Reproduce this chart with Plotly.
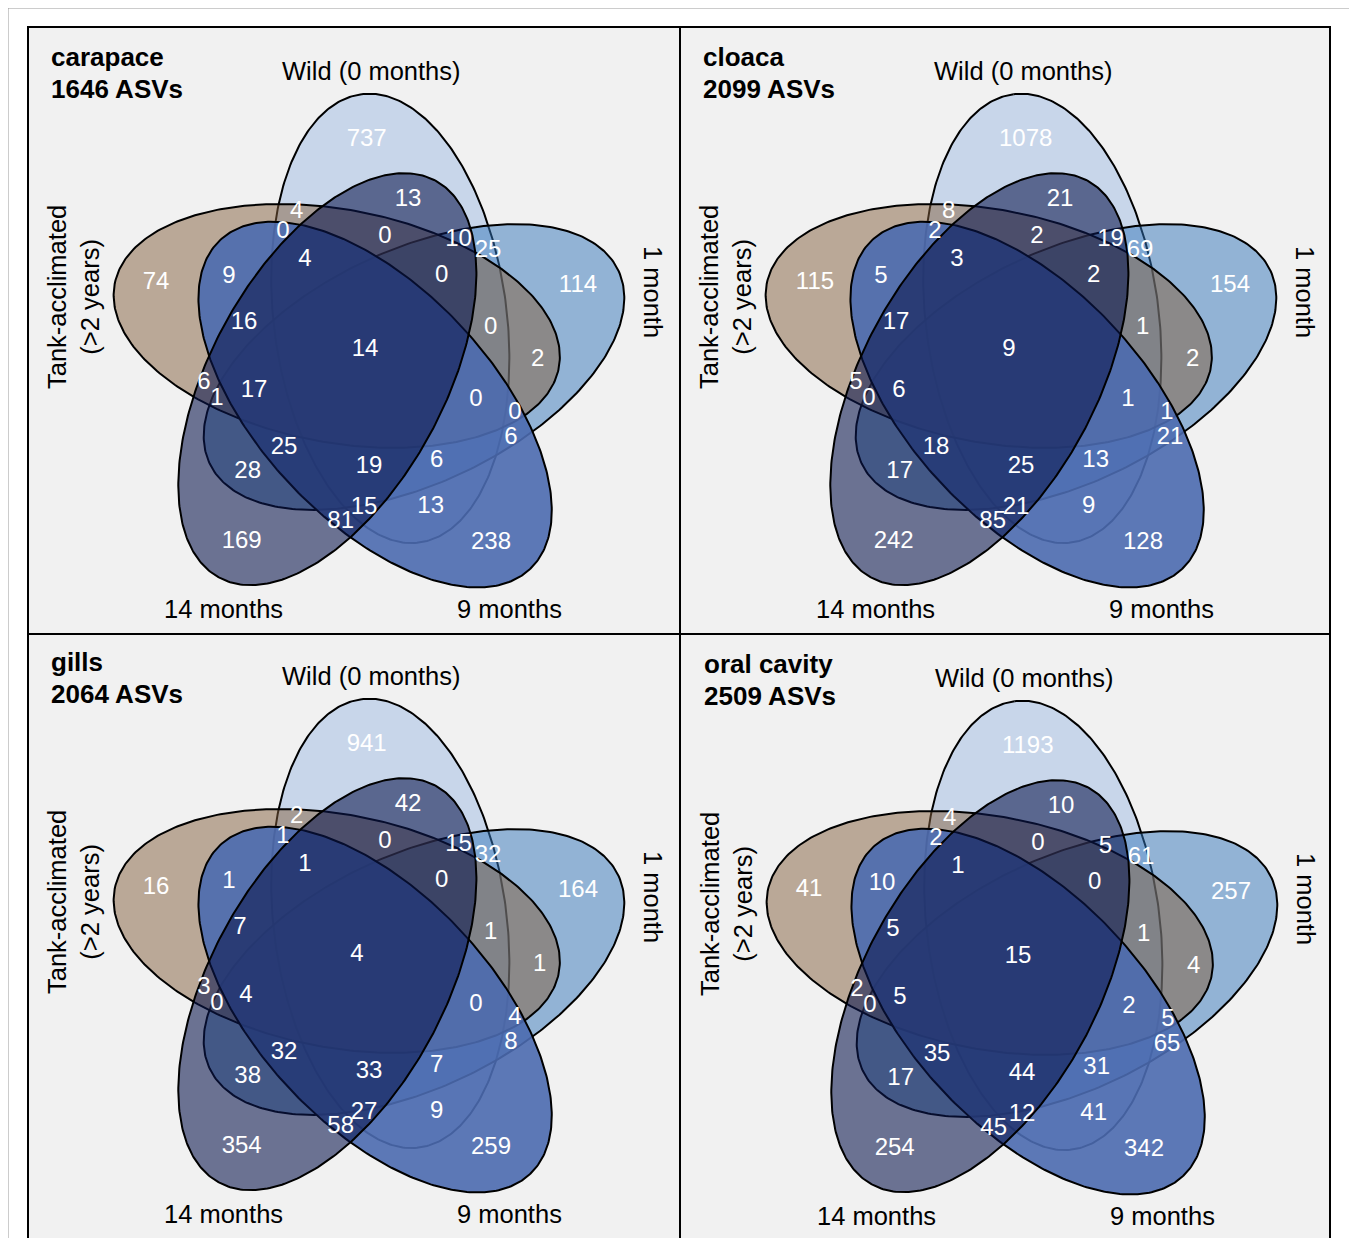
import numpy as np
import plotly.graph_objects as go

# ---------------- data ----------------
SET_NAMES = ["Wild (0 months)", "1 month", "9 months", "14 months", "Tank-acclimated<br>(>2 years)"]
PANEL_TITLES = ["carapace", "cloaca", "gills", "oral cavity"]
PANEL_TOTALS = [1646, 2099, 2064, 2509]

# region counts, same region order in every panel
CARAPACE = [737, 13, 4, 0, 0, 10, 25, 4, 9, 74, 0, 114, 16, 0, 14, 2, 6, 1, 17, 0,
            0, 6, 25, 19, 6, 28, 15, 81, 13, 169, 238]
CLOACA = [1078, 21, 8, 2, 2, 19, 69, 3, 5, 115, 2, 154, 17, 1, 9, 2, 5, 0, 6, 1,
          1, 21, 18, 25, 13, 17, 21, 85, 9, 242, 128]
GILLS = [941, 42, 2, 1, 0, 15, 32, 1, 1, 16, 0, 164, 7, 1, 4, 1, 3, 0, 4, 0,
         4, 8, 32, 33, 7, 38, 27, 58, 9, 354, 259]
ORAL = [1193, 10, 4, 2, 0, 5, 61, 1, 10, 41, 0, 257, 5, 1, 15, 4, 2, 0, 5, 2,
        5, 65, 35, 44, 31, 17, 12, 45, 41, 254, 342]
PANEL_VALUES = [CARAPACE, CLOACA, GILLS, ORAL]

# ---------------- layout constants ----------------
W, H = 1357, 1238
PAGE_MARGIN = 8  # default body margin of the html page
PANEL_OFFSETS = [(0, 0), (652, 0), (0, 605), (653, 607)]

# venn geometry (panel-1 pixel frame)
CX, CY = 368.7, 359.0
D = 46.0
PHI0 = 62.0
TH0 = 97.3
BAX, AAX = 226.0, 116.5

# ellipse style per set index (0 Wild, 1 1m, 2 9m, 3 14m, 4 Tank)
FILLS = {
    0: "rgba(160,188,228,0.5)",
    1: "rgba(52,118,186,0.5)",
    4: "rgba(132,96,62,0.5)",
    2: "rgba(75,106,175,0.9)",
    3: "rgba(11,23,78,0.58)",
}
DRAW_ORDER = [0, 1, 4, 2, 3]

LABEL_POS = [(366.7, 140), (408, 200), (296.7, 211.7), (283, 231.7), (385, 237),
             (458.5, 239.5), (488, 250.7), (305, 260), (229, 276.7), (156, 283),
             (441.7, 275.7), (578, 286), (244, 323), (490.7, 328), (365, 350),
             (537.7, 360), (204, 382.7), (217, 399), (254, 390.7), (476, 400),
             (515, 412.7), (511, 437.7), (284, 448), (369, 466.7), (436.7, 460.7),
             (247.7, 472.3), (364, 507.7), (340.7, 522), (430.7, 507.3),
             (241.7, 542.3), (491, 543)]
LABEL_DX = [
    {},
    {0: 7, 9: 7, 14: -8, 15: 3, 18: -7, 21: 7, 24: 7, 28: 6},
    {12: -4, 14: -8, 15: 2, 18: -8, 28: 6},
    {0: 8, 5: -6, 12: -4, 15: 3, 18: -7, 21: 3, 24: 7, 26: 5, 28: 10},
]

FONT = "Arial, Liberation Sans, sans-serif"
NUM_SIZE = 24
LAB_SIZE = 25.5
TITLE_SIZE = 26

fig = go.Figure()

shapes = [
    dict(type="rect", xref="x", yref="y", x0=8, y0=8, x1=1353, y1=1260,
         line=dict(color="#9a9a9a", width=1), fillcolor="white", layer="below"),
    dict(type="rect", xref="x", yref="y", x0=28, y0=27, x1=1330, y1=1260,
         line=dict(color="black", width=2), fillcolor="#f1f1f1", layer="below"),
    dict(type="line", xref="x", yref="y", x0=680, y0=27, x1=680, y1=1260,
         line=dict(color="black", width=2), layer="below"),
    dict(type="line", xref="x", yref="y", x0=28, y0=634, x1=1330, y1=634,
         line=dict(color="black", width=2), layer="below"),
]

annotations = []
t = np.linspace(0, 2 * np.pi, 361)

for p, (ox, oy) in enumerate(PANEL_OFFSETS):
    for k in DRAW_ORDER:
        phi = np.deg2rad(PHI0 - 72 * k)
        th = np.deg2rad(TH0 - 72 * k)
        cx = CX + ox + D * np.cos(phi)
        cy = CY + oy - D * np.sin(phi)
        xs = cx + BAX * np.cos(t) * np.cos(th) - AAX * np.sin(t) * np.sin(th)
        ys = cy - (BAX * np.cos(t) * np.sin(th) + AAX * np.sin(t) * np.cos(th))
        fig.add_trace(go.Scatter(x=xs, y=ys, mode="lines", fill="toself",
                                 fillcolor=FILLS[k], line=dict(color="black", width=2),
                                 hoverinfo="skip", showlegend=False))
    vals = PANEL_VALUES[p]
    lx = [LABEL_POS[i][0] + ox + LABEL_DX[p].get(i, 0) for i in range(len(vals))]
    ly = [LABEL_POS[i][1] + oy for i in range(len(vals))]
    fig.add_trace(go.Scatter(x=lx, y=ly, mode="text", text=[str(v) for v in vals],
                             textposition="middle center",
                             textfont=dict(family=FONT, size=NUM_SIZE, color="white"),
                             hoverinfo="skip", showlegend=False))

    # titles
    tfont = dict(family=FONT, size=TITLE_SIZE, color="black")
    annotations.append(dict(x=49 + ox, y=57 + oy, text="<b>%s</b>" % PANEL_TITLES[p],
                            xanchor="left", yanchor="middle", showarrow=False, font=tfont))
    annotations.append(dict(x=49 + ox, y=89 + oy, text="<b>%d ASVs</b>" % PANEL_TOTALS[p],
                            xanchor="left", yanchor="middle", showarrow=False, font=tfont))
    # set names
    lab_font = dict(family=FONT, size=LAB_SIZE, color="black")
    annotations.append(dict(x=371 + ox, y=71 + oy, text=SET_NAMES[0], showarrow=False,
                            xanchor="center", yanchor="middle", font=lab_font))
    annotations.append(dict(x=653 + ox, y=292 + oy, text=SET_NAMES[1], showarrow=False,
                            textangle=90, xanchor="center", yanchor="middle", font=lab_font))
    annotations.append(dict(x=509 + ox, y=609 + oy, text=SET_NAMES[2], showarrow=False,
                            xanchor="center", yanchor="middle", font=lab_font))
    annotations.append(dict(x=223 + ox, y=609 + oy, text=SET_NAMES[3], showarrow=False,
                            xanchor="center", yanchor="middle", font=lab_font))
    annotations.append(dict(x=73 + ox, y=297 + oy, text=SET_NAMES[4], showarrow=False,
                            textangle=-90, xanchor="center", yanchor="middle", font=lab_font))

fig.update_layout(
    width=W - PAGE_MARGIN, height=H - PAGE_MARGIN,
    margin=dict(l=0, r=0, t=0, b=0),
    paper_bgcolor="white", plot_bgcolor="white",
    xaxis=dict(range=[PAGE_MARGIN, W], visible=False, fixedrange=True),
    yaxis=dict(range=[H, PAGE_MARGIN], visible=False, fixedrange=True),
    shapes=shapes, annotations=annotations, showlegend=False,
)

fig.write_html("out.html")
